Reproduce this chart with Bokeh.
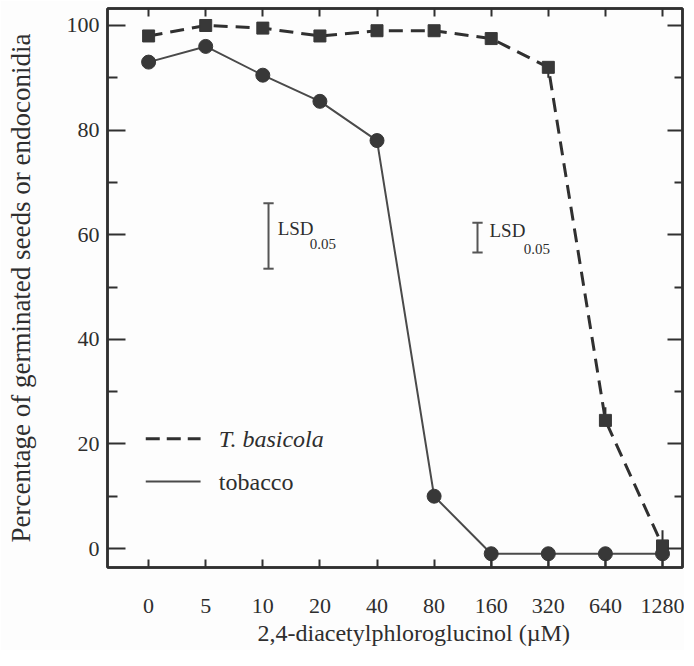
from bokeh.plotting import figure
from bokeh.models import FixedTicker, LinearAxis, Range1d, Title
from bokeh.core.properties import value
from bokeh.embed import file_html
from bokeh.resources import INLINE

# ---- data ----
categories = ["0", "5", "10", "20", "40", "80", "160", "320", "640", "1280"]
basicola = [98, 100, 99.5, 98, 99, 99, 97.5, 92, 24.5, 0.5]
tobacco = [93, 96, 90.5, 85.5, 78, 10, -1, -1, -1, -1]
basicola_err_up = [0, 0, 0, 0, 0, 0, 0, 0, 2.5, 3]
basicola_err_down = [0, 0, 0, 0, 0, 0, 0, 2, 0, 0]
tobacco_err_down = [0, 0, 0, 0, 0, 0, 3, 3, 3, 3]
y_ticks = [0, 20, 40, 60, 80, 100]
y_minor = [10, 30, 50, 70, 90]
# LSD bars (x position between categories, low, high)
lsd_x = [2.10, 5.76]
lsd_low = [53.5, 56.6]
lsd_high = [66.0, 62.3]
lsd_text_x = [2.26, 5.97]
lsd_text_y = [61.2, 60.8]
lsd_sub_x = [2.82, 6.57]
lsd_sub_y = [58.3, 57.3]
# legend
legend_labels = ["T. basicola", "tobacco"]
legend_y = [21, 12.8]
legend_x0, legend_x1, legend_tx = -0.05, 0.91, 1.23

FONT = "Liberation Serif"
INK = "#303030"
TXT = "#2e2e2e"

xs = list(range(len(categories)))

p = figure(width=684, height=650, output_backend="svg", toolbar_location=None,
           x_range=Range1d(-0.72, 9.35), y_range=Range1d(-3.63, 103.25),
           min_border_left=107, min_border_right=2, min_border_top=8,
           min_border_bottom=83)
p.background_fill_color = "#fdfdfd"
p.border_fill_color = "#fdfdfd"
p.grid.visible = False
p.outline_line_color = INK
p.outline_line_width = 2.5

# bottom axis
xa = p.xaxis[0]
xa.ticker = FixedTicker(ticks=xs)
xa.major_label_overrides = {i: c for i, c in enumerate(categories)}
xa.major_tick_in = 8
xa.major_tick_out = 0
xa.minor_tick_line_color = None
xa.axis_line_color = INK
xa.axis_line_width = 2.5
xa.major_tick_line_color = INK
xa.major_tick_line_width = 2
xa.major_label_text_font = FONT
xa.major_label_text_font_size = "22px"
xa.major_label_text_color = TXT
xa.major_label_standoff = 31

# left axis
ya = p.yaxis[0]
ya.ticker = FixedTicker(ticks=y_ticks, minor_ticks=y_minor)
ya.major_tick_in = 18
ya.major_tick_out = 0
ya.minor_tick_in = 10
ya.minor_tick_out = 0
ya.axis_line_color = INK
ya.axis_line_width = 2.5
ya.major_tick_line_color = INK
ya.major_tick_line_width = 2
ya.minor_tick_line_color = INK
ya.minor_tick_line_width = 2
ya.major_label_text_font = FONT
ya.major_label_text_font_size = "22px"
ya.major_label_text_color = TXT
ya.major_label_standoff = 8
ya.axis_label = "Percentage of germinated seeds or endoconidia"
ya.axis_label_text_font = FONT
ya.axis_label_text_font_size = "27px"
ya.axis_label_text_font_style = "normal"
ya.axis_label_text_color = TXT
ya.axis_label_standoff = 28

# top axis (ticks only)
top = LinearAxis(ticker=FixedTicker(ticks=xs))
top.major_label_overrides = {i: "" for i in xs}
top.major_tick_in = 8
top.major_tick_out = 0
top.minor_tick_line_color = None
top.axis_line_color = INK
top.axis_line_width = 2.5
top.major_tick_line_color = INK
top.major_tick_line_width = 2
top.major_label_standoff = 0
p.add_layout(top, "above")

# right axis (ticks only)
right = LinearAxis(ticker=FixedTicker(ticks=y_ticks, minor_ticks=y_minor))
right.major_label_overrides = {t: "" for t in y_ticks}
right.major_tick_in = 15
right.major_tick_out = 0
right.minor_tick_in = 8
right.minor_tick_out = 0
right.axis_line_color = INK
right.axis_line_width = 2.5
right.major_tick_line_color = INK
right.major_tick_line_width = 2
right.minor_tick_line_color = INK
right.minor_tick_line_width = 2
right.major_label_standoff = 0
p.add_layout(right, "right")

# x axis title (offset to the right as in the reference)
xt = Title(text="2,4-diacetylphloroglucinol (µM)", align="left", offset=150,
           text_font=FONT, text_font_size="24px", text_font_style="normal",
           text_color=TXT)
if hasattr(xt, "standoff"):
    xt.standoff = 4
p.add_layout(xt, "below")

# error bars on points
b_hi = [v + e for v, e in zip(basicola, basicola_err_up)]
b_lo = [v - e for v, e in zip(basicola, basicola_err_down)]
t_lo = [v - e for v, e in zip(tobacco, tobacco_err_down)]
p.segment(x0=xs, y0=b_lo, x1=xs, y1=b_hi, line_color=INK, line_width=2)
p.segment(x0=xs, y0=tobacco, x1=xs, y1=t_lo, line_color=INK, line_width=2)

# series
p.line(xs, tobacco, line_color="#4a4a4a", line_width=2)
p.scatter(xs, tobacco, marker="circle", size=14, fill_color="#383838", line_color="#383838")
p.line(xs, basicola, line_color=INK, line_width=3, line_dash="14 8")
p.scatter(xs, basicola, marker="square", size=12, fill_color="#383838", line_color="#383838")

# LSD bars
p.segment(x0=lsd_x, y0=lsd_low, x1=lsd_x, y1=lsd_high, line_color="#555555", line_width=2)
cap = 0.09
p.segment(x0=[x - cap for x in lsd_x], y0=lsd_low, x1=[x + cap for x in lsd_x], y1=lsd_low,
          line_color="#555555", line_width=2)
p.segment(x0=[x - cap for x in lsd_x], y0=lsd_high, x1=[x + cap for x in lsd_x], y1=lsd_high,
          line_color="#555555", line_width=2)
p.text(x=lsd_text_x, y=lsd_text_y, text=["LSD", "LSD"], text_font=value(FONT),
       text_font_size="19px", text_baseline="middle", text_color=TXT)
p.text(x=lsd_sub_x, y=lsd_sub_y, text=["0.05", "0.05"], text_font=value(FONT),
       text_font_size="15px", text_baseline="middle", text_color=TXT)

# legend
p.line([legend_x0, legend_x1], [legend_y[0]] * 2, line_color=INK, line_width=3, line_dash="14 7")
p.line([legend_x0, legend_x1], [legend_y[1]] * 2, line_color="#4a4a4a", line_width=2)
p.text(x=[legend_tx], y=[legend_y[0]], text=[legend_labels[0]], text_font=value(FONT),
       text_font_size="24px", text_font_style="italic", text_baseline="middle", text_color=TXT)
p.text(x=[legend_tx], y=[legend_y[1]], text=[legend_labels[1]], text_font=value(FONT),
       text_font_size="24px", text_baseline="middle", text_color=TXT)

open("out.html", "w").write(file_html(p, INLINE))
